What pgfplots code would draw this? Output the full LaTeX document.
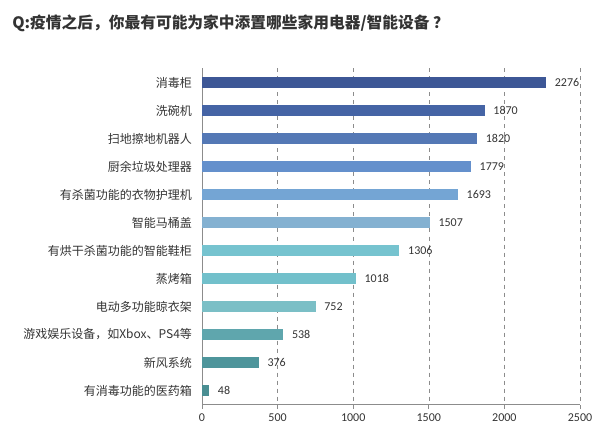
\documentclass[border=0pt]{standalone}
\usepackage{fontspec}
\setmainfont{Carlito}
\newfontfamily\cjk{Noto Sans CJK SC}
\usepackage{pgfplots}
\pgfplotsset{compat=1.18}
\definecolor{c1}{HTML}{3D5796}
\definecolor{c2}{HTML}{4564A5}
\definecolor{c3}{HTML}{5478B5}
\definecolor{c4}{HTML}{6490CC}
\definecolor{c5}{HTML}{74A5D4}
\definecolor{c6}{HTML}{84B1D1}
\definecolor{c7}{HTML}{76C3CF}
\definecolor{c8}{HTML}{72C0CB}
\definecolor{c9}{HTML}{7BBFC6}
\definecolor{c10}{HTML}{5FA6AD}
\definecolor{c11}{HTML}{4E959B}
\definecolor{c12}{HTML}{4A8E92}
\definecolor{txt}{HTML}{333333}
\definecolor{axl}{HTML}{8C8C8C}
\begin{document}
\begin{tikzpicture}
\useasboundingbox (-151.5pt,-22.125pt) rectangle (310.5pt,303.375pt);
\begin{axis}[
  at={(0,0)}, anchor=south west,
  scale only axis, width=283.5pt, height=252pt,
  xbar, bar width=8.8pt, bar shift=0pt,
  xmin=0, xmax=2500, ymin=-0.5, ymax=11.5, y dir=reverse,
  axis x line*=bottom, axis y line*=left,
  axis line style={axl, line width=0.6pt},
  xtick={0,500,...,2500},
  /pgf/number format/1000 sep={},
  /pgf/number format/assume math mode=true,
  scaled x ticks=false,
  xmajorgrids, major grid style={axl, dashed, line width=0.4pt},
  tick align=outside,
  xtick style={axl, line width=0.6pt},
  major tick length=3pt,
  ytick={0,...,11},
  ytick style={draw=none},
  minor ytick={-0.5,0.5,...,11.5},
  minor tick style={axl, line width=0.6pt},
  minor tick length=3pt,
  yticklabels={消毒柜,洗碗机,扫地擦地机器人,厨余垃圾处理器,有杀菌功能的衣物护理机,智能马桶盖,有烘干杀菌功能的智能鞋柜,蒸烤箱,电动多功能晾衣架,{游戏娱乐设备，如Xbox、PS4等},新风系统,有消毒功能的医药箱},
  yticklabel style={font=\cjk\fontsize{9}{10}\selectfont, text=txt, xshift=-1pt},
  xticklabel style={font=\fontsize{9}{10}\selectfont, text=txt},
  nodes near coords,
  every node near coord/.append style={font=\fontsize{9}{10}\selectfont, text=txt, anchor=west, xshift=3pt},
  clip=false,
]
\addplot[fill=c1, draw=none] coordinates {(2276,0)};
\addplot[fill=c2, draw=none] coordinates {(1870,1)};
\addplot[fill=c3, draw=none] coordinates {(1820,2)};
\addplot[fill=c4, draw=none] coordinates {(1779,3)};
\addplot[fill=c5, draw=none] coordinates {(1693,4)};
\addplot[fill=c6, draw=none] coordinates {(1507,5)};
\addplot[fill=c7, draw=none] coordinates {(1306,6)};
\addplot[fill=c8, draw=none] coordinates {(1018,7)};
\addplot[fill=c9, draw=none] coordinates {(752,8)};
\addplot[fill=c10, draw=none] coordinates {(538,9)};
\addplot[fill=c11, draw=none] coordinates {(376,10)};
\addplot[fill=c12, draw=none] coordinates {(48,11)};
\end{axis}
\node[anchor=west, inner sep=0pt, text=txt, font=\cjk\bfseries\fontsize{11.8}{13}\selectfont] at (-142.5pt,286pt) {Q:疫情之后，你最有可能为家中添置哪些家用电器/智能设备 ？};
\end{tikzpicture}
\end{document}
